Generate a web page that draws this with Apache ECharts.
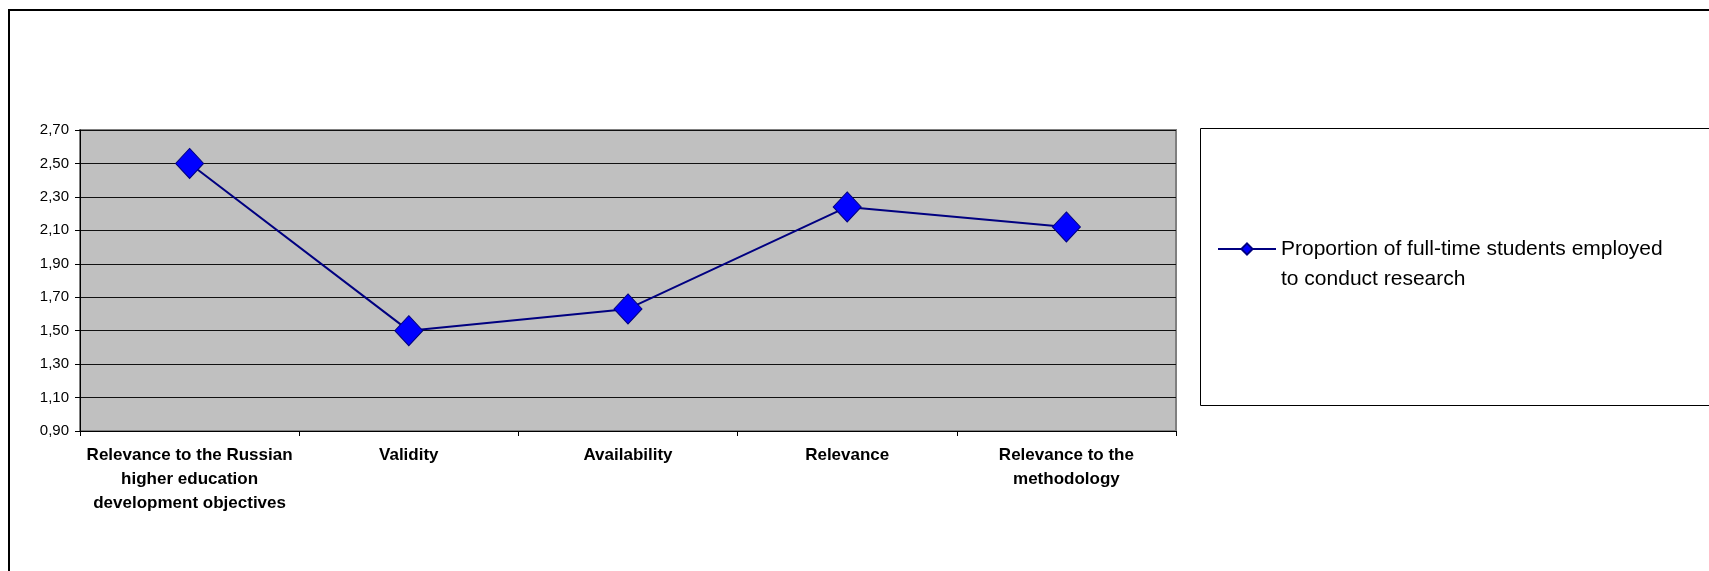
<!DOCTYPE html>
<html>
<head>
<meta charset="utf-8">
<script src="https://cdn.jsdelivr.net/npm/echarts@6/dist/echarts.min.js"></script>
<style>
html,body{margin:0;padding:0;background:#fff;}
#chart{width:1709px;height:571px;}
</style>
</head>
<body>
<div id="chart"></div>
<script>
var categories = [
  'Relevance to the Russian\nhigher education\ndevelopment objectives',
  'Validity',
  'Availability',
  'Relevance',
  'Relevance to the\nmethodology'
];
var seriesName = 'Proportion of full-time students employed\nto conduct research';
var values = [2.50, 1.50, 1.63, 2.24, 2.12];
var yMin = 0.9, yMax = 2.7, yStep = 0.2;

var FONT = "'Liberation Sans', Arial, sans-serif";
var chart = echarts.init(document.getElementById('chart'), null, {renderer: 'canvas'});
chart.setOption({
  animation: false,
  backgroundColor: '#ffffff',
  graphic: [
    {type: 'rect', z: -10, shape: {x: 9, y: 10, width: 1800, height: 700},
     style: {fill: 'none', stroke: '#000', lineWidth: 2}},
    {type: 'rect', z: -10, shape: {x: 1200.5, y: 128.5, width: 600, height: 277},
     style: {fill: '#fff', stroke: '#000', lineWidth: 1}}
  ],
  grid: {
    left: 80, top: 130, right: 533, bottom: 140,
    show: true, backgroundColor: '#C0C0C0', borderColor: '#808080', borderWidth: 2
  },
  legend: {
    data: [seriesName],
    left: 1217, top: 204, padding: 0,
    itemWidth: 58, itemHeight: 14, itemGap: 0,
    formatter: function (name) { return '\n' + name; },
    textStyle: {fontFamily: FONT, fontSize: 21, color: '#000', lineHeight: 30}
  },
  xAxis: {
    type: 'category',
    data: categories,
    boundaryGap: true,
    axisLine: {lineStyle: {color: '#000', width: 1}},
    axisTick: {show: true, alignWithLabel: false, length: 5, lineStyle: {color: '#000'}},
    axisLabel: {interval: 0, margin: 12, fontFamily: FONT, fontSize: 17, fontWeight: 'bold',
      color: '#000', lineHeight: 24},
    splitLine: {show: false}
  },
  yAxis: {
    type: 'value',
    min: yMin, max: yMax, interval: yStep,
    axisLine: {show: true, lineStyle: {color: '#000', width: 1}},
    axisTick: {show: true, length: 5, lineStyle: {color: '#000'}},
    axisLabel: {margin: 11, fontFamily: FONT, fontSize: 15, color: '#000',
      formatter: function (v) { return v.toFixed(2).replace('.', ','); }},
    splitLine: {show: true, lineStyle: {color: '#111', width: 1}}
  },
  series: [{
    name: seriesName,
    type: 'line',
    data: values,
    symbol: 'diamond',
    symbolSize: [28, 30],
    lineStyle: {color: '#000080', width: 2},
    itemStyle: {color: '#0000FF', borderColor: '#000080', borderWidth: 1}
  }]
});
</script>
</body>
</html>
